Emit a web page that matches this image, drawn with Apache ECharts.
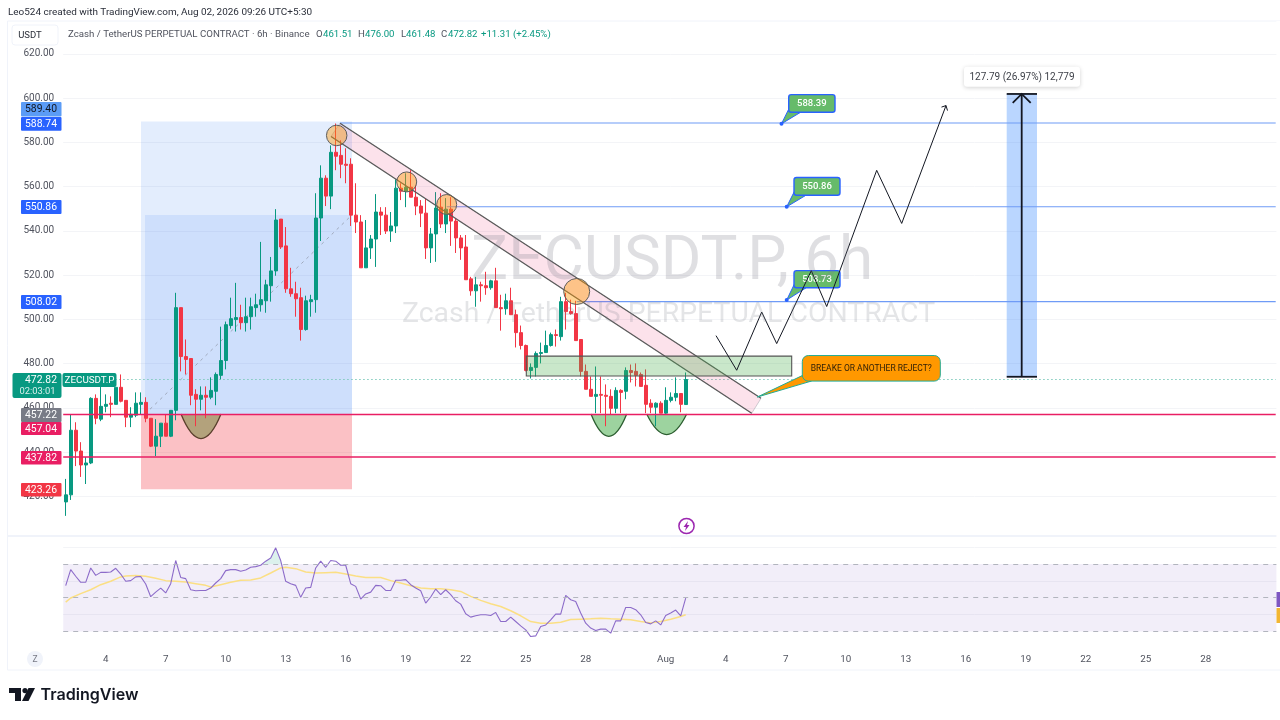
<!DOCTYPE html>
<html>
<head>
<meta charset="utf-8">
<style>html,body{margin:0;padding:0;background:#fff}#c{width:1280px;height:720px}</style>
<script src="https://cdn.jsdelivr.net/npm/echarts@6/dist/echarts.min.js"></script>
</head>
<body>
<div id="c"></div>
<script>
// ---- price series (6h candles, Jul 2 00:00 onward) ----
const opens = [417.5,420.7,449.9,440.5,434.2,435.1,464.3,454.9,460.7,462.1,
461.6,469.3,463.4,455.8,456.7,461.6,462.5,455.3,442.7,447.2,
453.1,447.2,458.9,505.3,483.2,482.3,466.1,463.9,465.7,464.8,
467.5,474.7,481.4,497.2,499.9,500.8,498.5,501.2,505.3,506.6,
508.4,515.2,521.9,545.3,533.2,513.8,511.6,509.8,495.4,508,
508.9,545.8,563.8,555.7,575.5,574.1,570.1,570.1,547.1,544,
523.3,532.3,536.3,548.5,547.1,539.9,542.2,559.3,557.9,559.7,
555.2,551.2,548,532.3,538.6,550.7,543.1,549.8,544.4,536.8,
532.7,518.3,512.9,515.6,515.2,514.3,517.4,505.3,504.8,508.4,
502.1,494,488.2,476.9,478.3,484.6,485,488.2,493.1,492.2,
508,503.5,502.6,490.9,476.5,468.4,465.2,466.1,465.7,465.2,
459.8,467.9,467.5,476.9,476.5,475.1,470.2,462.1,460.3,462.1,
457.6,463.4,464.8,466.5,461.51];
const closes = [420.7,449.9,440.5,434.2,435.1,464.3,455.3,460.7,461.6,461.6,
469.3,463,455.8,457.1,462.1,462.5,455.3,442.7,447.2,453.1,
447.2,458.9,505.3,483.2,481.9,465.7,463.9,465.7,464.8,467.9,
475.1,481.4,497.6,500.3,500.8,498.5,501.2,505.7,506.6,508.9,
515.6,521.9,544.9,532.7,513.8,511.6,509.3,495.4,508.4,508.9,
545.8,563.8,555.7,575.5,573.7,570.1,569.6,547.1,544,523.3,
532.3,536.3,548.5,547.1,539.9,542.2,559.3,557.9,559.7,555.2,
551.2,548,532.3,538.6,550.3,543.1,549.8,544.4,536.8,532.3,
517.9,512.9,515.6,515.2,514.3,517.4,505.3,504.8,508.4,502.1,
494,488.2,476.9,478.3,484.6,485,488.2,493.1,492.7,508,
503.5,502.6,490.4,476.5,468.4,465.2,466.1,465.7,465.2,459.8,
467.9,467,476.9,476,474.7,469.7,461.6,460.3,462.1,457.6,
463.4,464.8,466.5,461.6,472.82];
const lows = [411.2,418.4,433.7,428.8,425.6,434.6,452.6,454,458,455.8,
461.6,462.5,451.3,451.3,455.8,457.1,453.5,442.3,438.2,442.3,
447.2,446.8,454.4,476.5,475.1,461.2,451.7,458.9,455.3,463.9,
461.2,472.9,477.4,495.8,494.5,495.4,494.5,495.4,501.2,503.5,
503,508,519.7,531.8,512,510.2,501.2,490.4,494.9,501.2,
503,535.4,551.2,549.8,567.4,563.8,561.5,542.2,539,523.3,
523.3,527.3,523.7,538.1,538.6,535,539,553.9,550.7,555.2,
547.1,541.7,527.3,525.5,526,541.3,539,533.2,530,526.9,
517.9,510.7,505.7,508,511.1,513.4,505.3,494.9,502.1,502.1,
487.3,486.4,476.5,473.3,474.2,480.1,485,487.7,487.7,490.4,
495.4,502.1,490.4,474.2,468.4,465.2,457.6,457.6,451.7,457.1,
457.6,457.6,463.9,471.5,469.7,469.7,457.6,457.6,451.7,457.6,
457.1,462.5,463,458,461.48];
const highs = [427.9,457.1,453.5,444.5,437.8,464.8,466.1,469.7,466.1,465.2,
469.3,475.1,463.4,460.3,467,467,464.8,455.3,454.9,453.1,
457.1,458.9,512,505.3,490.9,482.3,468.4,469.7,469.7,473.8,
476,496.7,499,509.8,516.5,506.6,509.8,509.8,511.6,535,
517.9,528.2,549.8,545.3,541.7,523.3,517,514.3,510.7,511.1,
557,569.6,565.1,578.6,588.5,580.9,577.3,572.8,561.5,547.1,
544.9,538.1,556.6,550.7,550.7,548.5,563.3,561.5,566,567.4,
560.6,553.9,554.8,541.3,557.5,557,554.8,555.2,545.8,538.1,
538.1,519.2,519.2,517,521.5,517.9,523.3,511.1,511.6,514.3,
504.4,497.2,488.6,480.1,485.5,489.5,494.9,494,495.4,510.2,
512,508.9,508.4,490.9,479.6,474.2,478.7,474.2,470.6,468.4,
469.3,468.4,478.3,479.6,480.1,476,477.4,463.9,462.5,463,
469.3,467,473.8,466.5,476];

// ---- RSI ----
const rsi = [57.1,66.6,62.7,59.1,59.1,67.6,63.2,65,65,65.2,67.4,64,59.7,60.1,62.3,62.5,
58.1,50.6,53.3,55.7,52.8,58.3,72,62,61.3,54.7,54.1,54.3,54.3,55.7,58.7,61.3,
66,66.6,66.6,65.6,66.4,68,68.4,69.2,71.6,73.5,79.5,72,59.7,58.3,57.3,50.2,
55.7,56.1,67.6,71.6,68,72,71.6,69.2,69.2,58.3,56.7,49.2,52.2,53.3,57.3,57.1,
54.3,54.3,60.3,60.3,60.7,57.7,55.7,54.1,46.8,50.4,55.1,51.8,54.7,51.8,48.2,46.2,
40.5,38.5,39.3,39.9,39.9,39.5,41.3,35.9,35.9,38.5,35.9,33.3,31,27,27.4,33,
33.9,36.9,40.3,40.3,51.4,48.8,47.8,40.9,34.9,32,30.6,31.4,31.4,29,36.3,36.3,
44.2,44.2,42.9,39.9,35.3,34.5,36.3,33.9,39.5,40.9,42.7,39.3,49.8];
const rsiMaIdx = [0,1,3,5,7,9,11,12,14,16,18,20,22,24,26,28,29,31,33,35,37,39,41,43,44,46,48,50,52,54,56,58,60,62,63,65,67,69,71,73,75,77,79,81,83,85,87,89,91,93,95,97,99,101,103,105,107,109,111,113,115,117,119,121,123,124];
const rsiMaVal = [47.4,49.8,52.4,54.7,57.7,59.7,62.3,62.8,63.2,62.7,61.5,60.1,59.7,59.3,58.3,57.3,56.3,57.7,59.1,60.3,60.5,61.7,64.6,67.6,68,67.2,65.2,64.6,64.8,65,64,62.8,62,62,62,60.1,58.7,57.1,55.7,55.3,55.3,54.7,53.7,50.8,48.4,46.4,44.8,42.3,39.3,35.9,34.9,34.9,35.5,37.1,37.3,37.5,37.9,37.5,37.3,36.9,35.9,35.1,35.9,37.3,38.9,39.9];

// ---- axis labels ----
const tickIndex = [8,20,32,44,56,68,80,92,104,120,132,144,156,168,180,192,204,216,228];
const tickLabels = ['4','7','10','13','16','19','22','25','28','Aug','4','7','10','13','16','19','22','25','28'];
const slotCount = 243;

// ---- drawing anchors, in [candle index, price] ----
const channel = [[54.86,588.6],[139.06,464.3],[137.2,457.55],[53.06,582.65]];
const circles = [[54.2,583.1,2.05],[68.2,562.1,2],[76.2,551.9,2],[102.2,512.6,2.6]];
const bowlsGreen = [[105.06,112.2,457.2,437.1],[116.2,124.2,457.2,438.65]];
const bowlBrown = [23.06,31.06,457.2,435.05];
const zigzag = [[130.06,492.65],[134.2,477],[139.2,503.3],[142.2,489.05],[149.12,522],[152.2,505.8],[162.2,567.35],[167.2,543.35],[176.06,596.6]];
const hBlue = [[54.86,588.74],[76.2,550.86],[102.2,508.02]];
const hPink = [457.04,437.82];
const lastPrice = 472.82;
const calloutText = ['588.39','550.86','508.73'];
const calloutAnchor = [[143.16,588.39],[144.2,550.86],[144.2,508.73]];
const calloutBox = [[144.6,601.55,153.86,593.6],[145.66,564.07,154.86,556.1],[145.66,522,154.86,514.25]];

const FONT = 'Roboto, "Liberation Sans", sans-serif';
const UP = '#089981', DOWN = '#f23645';

function rectOf(api, x0, p0, x1, p1, style, r){
  const a = api.coord([x0,p0]), b = api.coord([x1,p1]);
  return {type:'rect', shape:{x:a[0],y:a[1],width:b[0]-a[0],height:b[1]-a[1],r:r||0}, style};
}
function lineOf(api, x0, p0, x1, p1, style){
  const a = api.coord([x0,p0]), b = api.coord([x1,p1]);
  return {type:'line', shape:{x1:a[0],y1:a[1],x2:b[0],y2:b[1]}, style};
}
function bowl(api, b, style){
  const a = api.coord([b[0],b[2]]), c = api.coord([b[1],b[2]]), m = api.coord([(b[0]+b[1])/2,b[3]]);
  return {type:'bezierCurve', shape:{x1:a[0],y1:a[1],x2:c[0],y2:c[1],cpx1:m[0],cpy1:m[1]}, style};
}
function layer(z, build){
  return {type:'custom', xAxisIndex:1, yAxisIndex:0, z, silent:true, clip:false, data:[[0,500]],
    renderItem:(p,api)=>({type:'group',children:build(api)})};
}

const backLayer = layer(1, api=>[
  rectOf(api,15.06,589.4,57.26,457.22,{fill:'rgba(33,110,243,0.125)'}),
  rectOf(api,15.86,547.2,57.26,457.22,{fill:'rgba(33,110,243,0.10)'}),
  rectOf(api,15.06,457.22,57.26,423.26,{fill:'rgba(242,54,69,0.31)'}),
  rectOf(api,188.2,601.85,194.26,474.06,{fill:'rgba(41,127,255,0.32)'}),
  bowl(api,bowlBrown,{fill:'#b3a27c',stroke:'#5a3f2c',lineWidth:1.3}),
  bowl(api,bowlsGreen[0],{fill:'rgba(76,175,80,0.55)',stroke:'#2c5e30',lineWidth:1.3}),
  bowl(api,bowlsGreen[1],{fill:'rgba(76,175,80,0.55)',stroke:'#2c5e30',lineWidth:1.3}),
  lineOf(api,15.86,457.22,57.26,547.2,{stroke:'rgba(120,123,134,0.55)',lineWidth:1,lineDash:[3,4]}),
  lineOf(api,-0.5,lastPrice,242,lastPrice,{stroke:'#7cc9bb',lineWidth:1,lineDash:[1.5,2.5]})
]);

const lineLayer = layer(3, api=>[
  ...hBlue.map(h=>lineOf(api,h[0],h[1],242,h[1],{stroke:'#6f9bf6',lineWidth:1.1})),
  ...hPink.map(p=>lineOf(api,-0.5,p,242,p,{stroke:'#e91e63',lineWidth:1.6}))
]);

const frontLayer = layer(5, api=>{
  const kids = [];
  // parallel channel
  const ch = channel.map(c=>api.coord(c));
  kids.push({type:'polygon',shape:{points:ch},style:{fill:'rgba(233,30,99,0.13)',stroke:'rgba(120,123,134,0.35)',lineWidth:1}});
  kids.push(lineOf(api,channel[0][0],channel[0][1],channel[1][0],channel[1][1],{stroke:'#5a5a5a',lineWidth:1.2}));
  kids.push(lineOf(api,channel[3][0],channel[3][1],channel[2][0],channel[2][1],{stroke:'#5a5a5a',lineWidth:1.2}));
  // retest zone
  kids.push(rectOf(api,92.12,483.4,145.2,474.4,{fill:'rgba(76,175,80,0.3)',stroke:'#555',lineWidth:1.1}));
  // touch circles
  circles.forEach(c=>{
    const a = api.coord([c[0],c[1]]), r = api.size([c[2],0])[0];
    kids.push({type:'circle',shape:{cx:a[0],cy:a[1],r},style:{fill:'rgba(255,152,0,0.42)',stroke:'#5c5c5c',lineWidth:1}});
  });
  // price callouts
  calloutText.forEach((t,i)=>{
    const an = api.coord(calloutAnchor[i]), bx = calloutBox[i];
    const a = api.coord([bx[0],bx[1]]), b = api.coord([bx[2],bx[3]]);
    kids.push({type:'polygon',shape:{points:[an,[a[0]+1,b[1]-5],[a[0]+12,b[1]]]},style:{fill:'#66bb6a',stroke:'#2962ff',lineWidth:1}});
    kids.push({type:'circle',shape:{cx:an[0],cy:an[1],r:2},style:{fill:'#2962ff'}});
    kids.push(rectOf(api,bx[0],bx[1],bx[2],bx[3],{fill:'#66bb6a',stroke:'#2962ff',lineWidth:1.4},2.5));
    kids.push({type:'text',style:{text:t,x:(a[0]+b[0])/2,y:(a[1]+b[1])/2,align:'center',verticalAlign:'middle',fill:'#fff',fontSize:9.5,fontWeight:500,fontFamily:FONT}});
  });
  // orange question callout
  const oa = api.coord([147.32,483.65]), ob = api.coord([174.92,472.1]), oAn = api.coord([138.32,464.9]);
  kids.push({type:'polygon',shape:{points:[oAn,[oa[0]+1,ob[1]-6],[oa[0]+9,ob[1]]]},style:{fill:'#ff9800',stroke:'#22ab94',lineWidth:1}});
  kids.push(rectOf(api,147.32,483.65,174.92,472.1,{fill:'#ff9800',stroke:'#22ab94',lineWidth:1},6));
  kids.push({type:'text',style:{text:'BREAKE OR ANOTHER REJECT?',x:(oa[0]+ob[0])/2,y:(oa[1]+ob[1])/2+1,align:'center',verticalAlign:'middle',fill:'#2b1e08',fontSize:8.5,fontFamily:FONT}});
  // projected path
  const zz = zigzag.map(c=>api.coord(c));
  kids.push({type:'polyline',shape:{points:zz},style:{stroke:'#131722',lineWidth:1,fill:null}});
  const e = zz[zz.length-1];
  kids.push({type:'polyline',shape:{points:[[e[0]-4.5,e[1]+1.5],e,[e[0]+1.5,e[1]+5]]},style:{stroke:'#131722',lineWidth:1,fill:null}});
  // measure tool
  kids.push(lineOf(api,191.2,474.06,191.2,601.85,{stroke:'#131722',lineWidth:1.8}));
  kids.push(lineOf(api,188.2,601.85,194.26,601.85,{stroke:'#131722',lineWidth:1.8}));
  kids.push(lineOf(api,188.2,474.06,194.26,474.06,{stroke:'#131722',lineWidth:1.8}));
  const t = api.coord([191.2,601.85]);
  kids.push({type:'polyline',shape:{points:[[t[0]-9,t[1]+9],t,[t[0]+9,t[1]+9]]},style:{stroke:'#131722',lineWidth:1.8,fill:null}});
  const lb = api.coord([191.26,609.65]);
  kids.push({type:'rect',shape:{x:lb[0]-58,y:lb[1]-10,width:116,height:20,r:3},style:{fill:'#fff',shadowBlur:4,shadowColor:'rgba(0,0,0,0.18)',shadowOffsetY:1}});
  kids.push({type:'text',style:{text:'127.79 (26.97%) 12,779',x:lb[0],y:lb[1]+1,align:'center',verticalAlign:'middle',fill:'#3c3f47',fontSize:10,fontFamily:FONT}});
  return kids;
});

// RSI overbought wedge, taken from the RSI values themselves
const obFrom = 40, obTo = 43;
const obFill = {type:'custom',xAxisIndex:2,yAxisIndex:1,z:2,silent:true,clip:false,data:[[0,70]],
  renderItem:(p,api)=>{
    const start = api.coord([obFrom-1,70]), stop = api.coord([obTo+1,70]);
    const pts = [[start[0]+3,start[1]]];
    for(let i=obFrom;i<=obTo;i++) pts.push(api.coord([i,rsi[i]]));
    pts.push([stop[0]-4,stop[1]]);
    return {type:'polygon',shape:{points:pts},style:{fill:'rgba(8,153,129,0.14)'}};
  }};

// ---- fixed chrome ----
function txt(text,x,y,o){
  return {type:'text',z:(o&&o.z)||1000,silent:true,x,y,style:Object.assign({text,fontFamily:FONT,fontSize:10,fill:'#434651',align:'left',verticalAlign:'middle'},o||{})};
}
function box(x,y,w,h,fill,o){
  return {type:'rect',z:(o&&o.z)||1000,silent:true,shape:{x,y,width:w,height:h,r:(o&&o.r)||0},style:Object.assign({fill},(o&&o.style)||{})};
}
function tag(label,y,h,fill,color){
  return [box(21,y,40.5,h,fill,{r:1}),txt(label,41,y+h/2+0.5,{fill:color||'#fff',align:'center',fontSize:10.4})];
}
const gfx = [
  // page furniture
  box(7.5,21,1280,649,'none',{z:1,style:{stroke:'#f0f3fa',lineWidth:1}}),
  box(8,535,1272,2,'#f0f3fa',{z:1}),
  box(1276.4,21,4,630,'#ffffff',{z:900}),
  txt('Leo524 created with TradingView.com, Aug 02, 2026 09:26 UTC+5:30',8,13,{fontSize:9.95,fill:'#2a2e39'}),
  box(12,25,46,20,'#fff',{r:3,style:{stroke:'#f0f3fa',lineWidth:1}}),
  txt('USDT',30,35.5,{align:'center',fontSize:9.5,fill:'#2a2e39'}),
  txt('Zcash / TetherUS PERPETUAL CONTRACT \u00b7 6h \u00b7 Binance',68,35,{fontSize:9.68,fill:'#50535e'}),
  txt('O',316,35,{fontSize:9.6,fill:'#50535e'}),txt('461.51',323,35,{fontSize:9.6,fill:UP}),
  txt('H',358,35,{fontSize:9.6,fill:'#50535e'}),txt('476.00',365,35,{fontSize:9.6,fill:UP}),
  txt('L',401,35,{fontSize:9.6,fill:'#50535e'}),txt('461.48',406,35,{fontSize:9.6,fill:UP}),
  txt('C',441,35,{fontSize:9.6,fill:'#50535e'}),txt('472.82',448,35,{fontSize:9.6,fill:UP}),
  txt('+11.31 (+2.45%)',481,35,{fontSize:9.6,fill:UP}),
  // watermark
  txt('ZECUSDT.P, 6h',471,263,{z:0,fontSize:62,fill:'rgba(120,123,134,0.24)'}),
  txt('Zcash / TetherUS PERPETUAL CONTRACT',402,315,{z:0,fontSize:28.4,fill:'rgba(120,123,134,0.2)'}),
  // price tags
  ...tag('589.40',102,14.6,'#5b9cf6','#131722'),
  ...tag('588.74',117,13.7,'#2962ff'),
  ...tag('550.86',200,14,'#2962ff'),
  ...tag('508.02',295,14,'#2962ff'),
  ...tag('457.22',408,14,'#787b86'),
  ...tag('457.04',422,13,'#e91e63'),
  ...tag('437.82',451,13.5,'#e91e63'),
  ...tag('423.26',483,13.5,'#f23645'),
  box(12.5,373,49,25,UP,{r:2}),
  txt('472.82',41,380,{align:'center',fill:'#fff',fontSize:10.4}),
  txt('02:03:01',37.5,392,{align:'center',fill:'rgba(255,255,255,0.85)',fontSize:9.4}),
  box(62.5,373,54,14,UP,{r:2}),
  txt('ZECUSDT.P',89.5,380.5,{align:'center',fill:'#fff',fontSize:9.8}),
  // RSI pane edge tags
  box(1276.5,592,4,15,'#7e57c2',{z:1000}),
  box(1276.5,608,4,15,'#f2b632',{z:1000}),
  // events marker
  {type:'circle',z:1000,silent:true,shape:{cx:686.5,cy:526,r:7.6},style:{fill:'#fff',stroke:'#9c27b0',lineWidth:1.5}},
  {type:'polygon',z:1001,silent:true,shape:{points:[[688,521],[683.5,527],[686,527],[685,531],[689.5,525],[687,525]]},style:{fill:'#9c27b0'}},
  // time-axis Z button
  {type:'circle',z:1000,silent:true,shape:{cx:35,cy:659,r:8},style:{fill:'#f0f3fa'}},
  txt('Z',35,659.5,{align:'center',fontSize:8.5,fill:'#787b86'}),
  // logo
  {type:'polygon',z:1000,silent:true,shape:{points:[[9,688],[21,688],[21,701],[15,701],[15,693],[9,693]]},style:{fill:'#131722'}},
  {type:'circle',z:1000,silent:true,shape:{cx:25,cy:690.6,r:2.6},style:{fill:'#131722'}},
  {type:'polygon',z:1000,silent:true,shape:{points:[[28.5,688],[35,688],[28.5,701],[22,701]]},style:{fill:'#131722'}},
  txt('TradingView',40.5,695,{fontSize:16.1,fontWeight:600,fill:'#131722',fontFamily:'Inter, Roboto, sans-serif'})
];

const candleData = opens.map((o,i)=>[o,closes[i],lows[i],highs[i]]);
const labelAt = Object.fromEntries(tickIndex.map((t,i)=>[t,tickLabels[i]]));
const slots = Array.from({length:slotCount},(_,i)=>String(i));
const rsiMaSeries = rsiMaIdx.map((x,i)=>[String(x),rsiMaVal[i]]);

const GRID_LINE = {show:true,lineStyle:{color:'#f3f4f7',width:1},showMinLine:false,showMaxLine:false};
const option = {
  animation:false,
  backgroundColor:'#fff',
  graphic:{elements:gfx},
  grid:[
    {left:63.2,width:1215,top:9.54,height:531.12},
    {left:63.2,width:1215,top:513.2,height:135.2}
  ],
  xAxis:[
    {type:'category',gridIndex:0,data:slots,show:false},
    {type:'value',gridIndex:0,min:-0.5,max:242.5,show:false},
    {type:'category',gridIndex:1,data:slots,axisLine:{show:false},axisTick:{show:false},splitLine:{show:false},
     axisLabel:{interval:0,margin:6,fontFamily:FONT,fontSize:9.8,color:'#50535e',formatter:(v)=>labelAt[v]||''}}
  ],
  yAxis:[
    {type:'value',gridIndex:0,min:400,max:640,interval:20,position:'left',axisLine:{show:false},axisTick:{show:false},
     splitLine:GRID_LINE,axisLabel:{margin:9,padding:[4,0,0,0],fontFamily:FONT,fontSize:10,color:'#50535e',showMinLabel:false,showMaxLabel:false,
       formatter:v=>v.toFixed(2)}},
    {type:'value',gridIndex:1,min:20,max:100,interval:20,axisLine:{show:false},axisTick:{show:false},axisLabel:{show:false},splitLine:GRID_LINE}
  ],
  series:[
    backLayer,
    {type:'candlestick',xAxisIndex:0,yAxisIndex:0,z:2,data:candleData,barWidth:3.9,silent:true,clip:false,
     itemStyle:{color:UP,color0:DOWN,borderColor:UP,borderColor0:DOWN,borderWidth:1}},
    lineLayer,
    frontLayer,
    obFill,
    {type:'line',xAxisIndex:2,yAxisIndex:1,z:3,data:rsi,symbol:'none',silent:true,lineStyle:{color:'#8c6bc9',width:1.1},
     markArea:{silent:true,itemStyle:{color:'rgba(126,87,194,0.1)'},data:[[{yAxis:70},{yAxis:30}]]},
     markLine:{silent:true,symbol:'none',label:{show:false},lineStyle:{color:'#b2b5be',type:[5,5],width:1},data:[{yAxis:70},{yAxis:50},{yAxis:30}]}},
    {type:'line',xAxisIndex:2,yAxisIndex:1,z:2,data:rsiMaSeries,connectNulls:true,symbol:'none',silent:true,lineStyle:{color:'#fbdf84',width:1.5}}
  ]
};
echarts.init(document.getElementById('c')).setOption(option);
</script>
</body>
</html>
